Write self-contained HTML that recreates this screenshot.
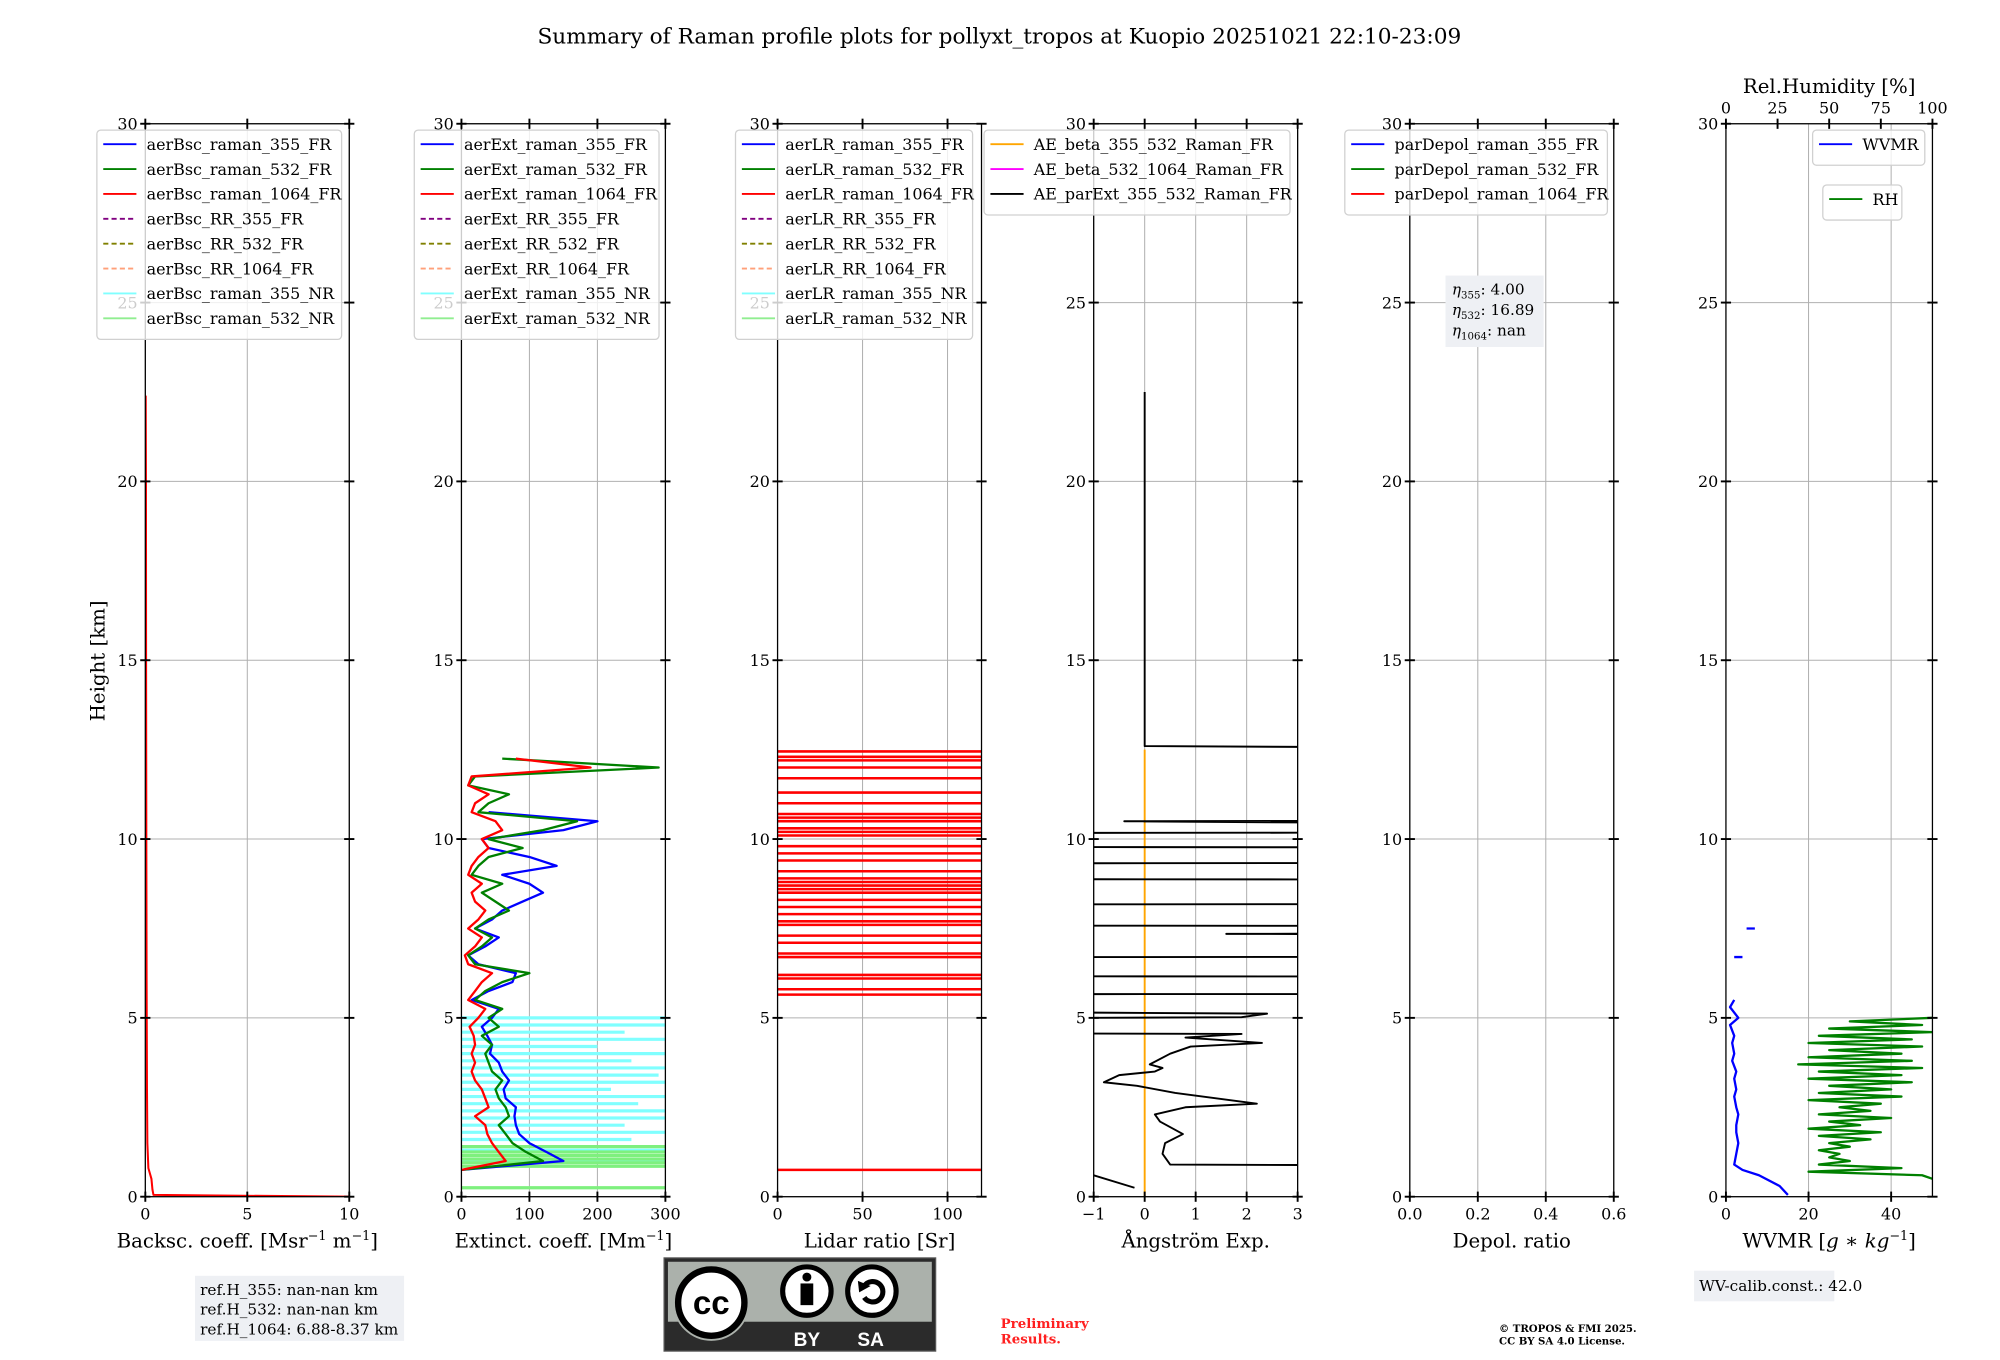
<!DOCTYPE html>
<html><head><meta charset="utf-8">
<style>
html,body{margin:0;padding:0;background:#fff;}
svg{display:block;font-family:"DejaVu Serif","Liberation Serif",serif;}
</style></head>
<body>
<svg id="fig" width="2000" height="1360" viewBox="0 0 1569 1066" preserveAspectRatio="none" xmlns="http://www.w3.org/2000/svg">
<rect x="0" y="0" width="1569" height="1066" fill="#fff"/>
<text x="784" y="34" font-size="17" text-anchor="middle">Summary of Raman profile plots for pollyxt_tropos at Kuopio 20251021 22:10-23:09</text>
<g id="plots"></g>
</svg>
<script>
// ---------- data ----------
const yTicks = [0,5,10,15,20,25,30];
const bscTicks = [0,5,10];
const extTicks = [0,100,200,300];
const lrTicks = [0,50,100];
const aeTicks = [-1,0,1,2,3];
const depTicks = [0.0,0.2,0.4,0.6];
const wvTicks = [0,20,40];
const rhTicks = [0,25,50,75,100];

const bscH = [0,0.05,0.2,0.5,0.8,1.5,3,6,10,15,20,22.4];
const bsc1064 = [10,0.4,0.35,0.3,0.15,0.1,0.08,0.06,0.05,0.04,0.03,0.02];

const extH = [0.75,1.0,1.25,1.5,1.75,2.0,2.25,2.5,2.75,3.0,3.25,3.5,3.75,4.0,4.25,4.5,4.75,5.0,5.25,5.5,5.75,6.0,6.25,6.5,6.75,7.0,7.25,7.5,7.75,8.0,8.25,8.5,8.75,9.0,9.25,9.5,9.75,10.0,10.25,10.5,10.75,11.0,11.25,11.5,11.75,12.0,12.25];
const ext355 = [0,150,125,100,85,80,78,80,65,62,70,60,55,42,45,38,30,45,55,15,40,75,80,25,10,35,55,20,45,60,90,120,100,60,140,100,40,30,150,200,40,null,null,null,null,null,null];
const ext532 = [0,120,95,75,65,55,70,65,55,50,60,45,40,35,45,30,55,40,60,20,35,60,100,20,10,30,45,20,40,70,50,30,60,15,25,40,90,40,120,170,25,40,70,10,20,290,60];
const ext1064 = [0,65,55,45,38,35,20,40,35,30,20,15,20,15,20,18,12,25,35,10,20,30,45,10,5,20,30,10,25,35,20,15,30,10,15,25,40,30,60,50,15,20,40,10,15,190,80];
const nr355H = [1.0,1.3,1.6,1.8,2.0,2.2,2.4,2.6,2.8,3.0,3.2,3.4,3.6,3.8,4.0,4.2,4.4,4.6,4.8,5.0];
const nr355V = [300,300,250,300,240,300,300,260,300,220,300,290,300,250,300,200,300,240,300,300];
const nr532H = [0.25,0.85,0.95,1.05,1.15,1.25,1.4];
const nr532V = [300,300,300,300,300,300,300];

const lrH = [0.75,5.65,5.8,6.1,6.2,6.7,6.8,7.1,7.3,7.6,7.7,7.9,8.1,8.3,8.5,8.6,8.7,8.8,8.9,9.1,9.4,9.6,9.8,10.1,10.2,10.3,10.5,10.6,10.7,11.0,11.3,11.7,12.0,12.2,12.3,12.45];
const lrV = [200,200,200,200,200,200,200,200,200,200,200,200,200,200,200,200,200,200,200,200,200,200,200,200,200,200,200,200,200,200,200,200,200,200,200,200];

const aeH = [0.8,0.9,1.2,1.5,1.75,2.1,2.3,2.5,2.6,2.9,3.1,3.2,3.4,3.5,3.6,3.7,4.0,4.2,4.3,4.45,4.55,4.62,4.88,5.02,5.12,5.3,5.65,5.68,6.15,6.17,6.68,6.72,7.3,7.35,7.4,7.55,7.6,8.15,8.2,8.85,8.9,9.3,9.35,9.75,9.8,10.15,10.2,10.3,10.5,10.55,12.45,12.6,22.5];
const aeV = [20,0.5,0.35,0.4,0.75,0.3,0.2,0.8,2.2,0.6,-0.15,-0.8,-0.5,0.2,0.35,0.1,0.5,0.9,2.3,0.8,1.9,-20,-20,1.9,2.4,-20,-20,20,20,-20,-20,20,20,1.6,20,20,-20,-20,20,20,-20,-20,20,20,-20,-20,20,20,-0.4,20,20,0,0];
const aeLowH = [0.25,0.6];
const aeLowV = [-0.2,-1];

const wvH = [0.05,0.3,0.6,0.75,0.9,1.2,1.5,1.8,2.0,2.3,2.5,2.8,3.0,3.3,3.5,3.8,4.0,4.3,4.5,4.8,5.0,5.3,5.5];
const wvV = [15,13,8,4,2,2.5,3,2.5,2.5,3,2.5,2,2.5,2,2.5,1.5,2,1.5,2,1,3,1,2];
const rhH = [0.5,0.6,0.7,0.8,0.9,1.0,1.1,1.2,1.3,1.4,1.5,1.6,1.7,1.8,1.9,2.0,2.1,2.2,2.3,2.4,2.5,2.6,2.7,2.8,2.9,3.0,3.1,3.2,3.3,3.4,3.5,3.6,3.7,3.8,3.9,4.0,4.1,4.2,4.3,4.4,4.5,4.6,4.7,4.8,4.9,5.0];
const rhV = [100,95,40,85,45,60,50,55,45,60,50,70,45,75,40,65,50,80,45,70,55,75,40,85,45,80,50,90,40,85,45,95,35,90,40,85,50,95,40,90,45,100,50,95,60,100];

// ---------- helpers ----------
const NS = "http://www.w3.org/2000/svg";
const root = document.getElementById('plots');
const TOP = 97, BOT = 938;
function yS(h){ return BOT - (h/30)*(BOT-TOP); }
function mk(tag, attrs, parent){
  const e = document.createElementNS(NS, tag);
  for (const k in attrs) e.setAttribute(k, attrs[k]);
  (parent||root).appendChild(e);
  return e;
}
function makeX(x0,x1,v0,v1){ return v => x0 + (v-v0)/(v1-v0)*(x1-x0); }

function axesFrame(id, x0, x1, xs, ticks){
  const g = mk('g', {});
  
  
  ticks.forEach(t => {
    const gl = mk('line', {x1:xs(t), x2:xs(t), y1:TOP, y2:BOT, stroke:'#b0b0b0', 'stroke-width':0.8}, g);
    
    
  });
  yTicks.forEach(t => {
    const gl = mk('line', {x1:x0, x2:x1, y1:yS(t), y2:yS(t), stroke:'#b0b0b0', 'stroke-width':0.8}, g);
    
    
  });
  return g;
}
function axesTicks(id, x0, x1, xs, ticks, fmt, xlabel, topAxis){
  const g = mk('g', {});
  
  
  mk('rect', {x:x0, y:TOP, width:x1-x0, height:BOT-TOP, fill:'none', stroke:'#000', 'stroke-width':1}, g);
  ticks.forEach(t => {
    const X = xs(t);
    mk('line', {x1:X, x2:X, y1:BOT-4, y2:BOT+4, stroke:'#000', 'stroke-width':1.5}, g);
    if (!topAxis) mk('line', {x1:X, x2:X, y1:TOP-4, y2:TOP+4, stroke:'#000', 'stroke-width':1.5}, g);
    const tl = mk('text', {x:X, y:BOT+18, 'font-size':12.5, 'text-anchor':'middle'}, g);
    
    
    tl.textContent = fmt(t);
  });
  yTicks.forEach(t => {
    const Y = yS(t);
    mk('line', {x1:x0-4, x2:x0+4, y1:Y, y2:Y, stroke:'#000', 'stroke-width':1.5}, g);
    mk('line', {x1:x1-4, x2:x1+4, y1:Y, y2:Y, stroke:'#000', 'stroke-width':1.5}, g);
    const tl = mk('text', {x:x0-6, y:Y+4.5, 'font-size':12.5, 'text-anchor':'end'}, g);
    
    
    tl.textContent = String(t);
  });
  const xl = mk('text', {x:(x0+x1)/2, y:BOT+40, 'font-size':15.5, 'text-anchor':'middle'}, g);
  
  
  xl.innerHTML = xlabel;
}
function clip(id, x0, x1){
  const cp = mk('clipPath', {id:'c'+id});
  mk('rect', {x:x0, y:TOP, width:x1-x0, height:BOT-TOP}, cp);
  const g = mk('g', {'clip-path':'url(#c'+id+')'});
  
  
  return g;
}
function profile(g, xs, H, V, color, w, name){
  let segs = [], cur = [];
  for (let i=0;i<H.length;i++){
    if (V[i]===null){ if(cur.length) segs.push(cur); cur=[]; continue; }
    cur.push(xs(V[i]).toFixed(1)+','+yS(H[i]).toFixed(1));
  }
  if (cur.length) segs.push(cur);
  segs.forEach(s => {
    const p = mk('polyline', {points:s.join(' '), fill:'none', stroke:color, 'stroke-width':w, 'stroke-linejoin':'round'}, g);
    
    
  });
}
function hbars(g, xs, H, V, color, w, name){
  for (let i=0;i<H.length;i++){
    const l = mk('line', {x1:xs(0), x2:xs(V[i]), y1:yS(H[i]), y2:yS(H[i]), stroke:color, 'stroke-width':w}, g);
    
    
  }
}
function legend(id, x, y, w, entries, rowH){
  const g = mk('g', {});
  
  
  mk('rect', {x:x, y:y, width:w, height:entries.length*rowH+8, rx:3, fill:'#fff', 'fill-opacity':0.8, stroke:'#d0d0d0', 'stroke-width':1}, g);
  entries.forEach((e,i) => {
    const cy = y + 11 + i*rowH;
    mk('line', {x1:x+5, x2:x+31, y1:cy, y2:cy, stroke:e[1], 'stroke-width':1.5, 'stroke-dasharray':e[2]?'4,2.5':'none'}, g);
    const t = mk('text', {x:x+39, y:cy+4.5, 'font-size':12.5}, g);
    
    
    t.textContent = e[0];
  });
}

// ---------- Panel 1: backscatter ----------
const x1s = makeX(114,274,0,10);
axesFrame('backscatter',114,274,x1s,bscTicks);
const g1 = clip('backscatter',114,274);
mk('line',{x1:x1s(0),x2:x1s(0),y1:yS(0),y2:yS(25),stroke:'#bbb','stroke-width':1},g1);
profile(g1,x1s,bscH,bsc1064,'#ff0000',1.6,'bsc-1064-profile');
axesTicks('backscatter',114,274,x1s,bscTicks,v=>String(v),'Backsc. coeff. [Msr<tspan dy="-6" font-size="10">−1</tspan><tspan dy="6"> m</tspan><tspan dy="-6" font-size="10">−1</tspan><tspan dy="6">]</tspan>');
const bscEntries = [['aerBsc_raman_355_FR','#0000ff'],['aerBsc_raman_532_FR','#008000'],['aerBsc_raman_1064_FR','#ff0000'],['aerBsc_RR_355_FR','#800080',1],['aerBsc_RR_532_FR','#808000',1],['aerBsc_RR_1064_FR','#ffa07a',1],['aerBsc_raman_355_NR','#80ffff'],['aerBsc_raman_532_NR','#90ee90']];
legend('backscatter-legend',76,102,192,bscEntries,19.5);

// ---------- Panel 2: extinction ----------
const x2s = makeX(362,522,0,300);
axesFrame('extinction',362,522,x2s,extTicks);
const g2 = clip('extinction',362,522);
hbars(g2,x2s,nr355H,nr355V,'#80ffff',2.5,'ext-355-nr-line');
hbars(g2,x2s,nr532H,nr532V,'#7ef07e',2.5,'ext-532-nr-line');
profile(g2,x2s,extH,ext355,'#0000ff',1.8,'ext-355-profile');
profile(g2,x2s,extH,ext532,'#008000',1.8,'ext-532-profile');
profile(g2,x2s,extH,ext1064,'#ff0000',1.8,'ext-1064-profile');
axesTicks('extinction',362,522,x2s,extTicks,v=>String(v),'Extinct. coeff. [Mm<tspan dy="-6" font-size="10">−1</tspan><tspan dy="6">]</tspan>');
legend('extinction-legend',325,102,192,bscEntries.map(e=>[e[0].replace('aerBsc','aerExt'),e[1],e[2]]),19.5);

// ---------- Panel 3: lidar ratio ----------
const x3s = makeX(610,770,0,120);
axesFrame('lidar-ratio',610,770,x3s,lrTicks);
const g3 = clip('lidar-ratio',610,770);
hbars(g3,x3s,lrH,lrV,'#ff0000',2,'lidar-ratio-1064-line');
axesTicks('lidar-ratio',610,770,x3s,lrTicks,v=>String(v),'Lidar ratio [Sr]');
legend('lidar-ratio-legend',577,102,186,bscEntries.map(e=>[e[0].replace('aerBsc','aerLR'),e[1],e[2]]),19.5);

// ---------- Panel 4: Angstrom ----------
const x4s = makeX(858,1018,-1,3);
axesFrame('angstrom',858,1018,x4s,aeTicks);
const g4 = clip('angstrom',858,1018);
const ov = mk('line',{x1:x4s(0),x2:x4s(0),y1:yS(0),y2:yS(12.5),stroke:'#ffa500','stroke-width':1.5},g4);


profile(g4,x4s,aeH,aeV,'#000',1.5,'ae-parext-profile');
profile(g4,x4s,aeLowH,aeLowV,'#000',1.5,'ae-parext-profile-low');
axesTicks('angstrom',858,1018,x4s,aeTicks,v=>v<0?'−'+Math.abs(v):String(v),'Ångström Exp.');
legend('angstrom-legend',772,102,240,[['AE_beta_355_532_Raman_FR','#ffa500'],['AE_beta_532_1064_Raman_FR','#ff00ff'],['AE_parExt_355_532_Raman_FR','#000000']],19.5);

// ---------- Panel 5: depol ----------
const x5s = makeX(1106,1266,0,0.6);
axesFrame('depol',1106,1266,x5s,depTicks);
axesTicks('depol',1106,1266,x5s,depTicks,v=>v.toFixed(1),'Depol. ratio');
legend('depol-legend',1055,102,206,[['parDepol_raman_355_FR','#0000ff'],['parDepol_raman_532_FR','#008000'],['parDepol_raman_1064_FR','#ff0000']],19.5);
(function(){
  const g = mk('g',{});
  
  
  mk('rect',{x:1134,y:216,width:77,height:56,fill:'#eef0f4'},g);
  [['η','355',': 4.00'],['η','532',': 16.89'],['η','1064',': nan']].forEach((r,i)=>{
    const t = mk('text',{x:1139,y:231+i*16,'font-size':12},g);
    t.innerHTML = '<tspan font-style="italic">'+r[0]+'</tspan><tspan font-size="8" dy="3">'+r[1]+'</tspan><tspan dy="-3">'+r[2]+'</tspan>';
  });
})();

// ---------- Panel 6: WVMR / RH ----------
const x6s = makeX(1354,1516,0,50);
const rhs = makeX(1354,1516,0,100);
axesFrame('wvmr',1354,1516,x6s,wvTicks);
const g6 = clip('wvmr',1354,1516);
profile(g6,rhs,rhH,rhV,'#008000',1.8,'rh-profile');
profile(g6,x6s,wvH,wvV,'#0000ff',1.8,'wvmr-profile');
[[3,6.7],[6,7.5]].forEach(p=>{
  const l = mk('line',{x1:x6s(p[0]-1),x2:x6s(p[0]+1),y1:yS(p[1]),y2:yS(p[1]),stroke:'#0000ff','stroke-width':1.8},g6);
  
  
});
axesTicks('wvmr',1354,1516,x6s,wvTicks,v=>String(v),'WVMR [<tspan font-style="italic">g</tspan> ∗ <tspan font-style="italic">kg</tspan><tspan dy="-6" font-size="10">−1</tspan><tspan dy="6">]</tspan>',true);
(function(){
  const g = mk('g',{});
  
  
  rhTicks.forEach(t=>{
    mk('line',{x1:rhs(t),x2:rhs(t),y1:TOP-4,y2:TOP+4,stroke:'#000','stroke-width':1.5},g);
    const tl = mk('text',{x:rhs(t),y:TOP-8,'font-size':12.5,'text-anchor':'middle'},g);
    
    
    tl.textContent = String(t);
  });
  const tt = mk('text',{x:1435,y:73,'font-size':15.5,'text-anchor':'middle'},g);
  
  
  tt.textContent = 'Rel.Humidity [%]';
})();
legend('wvmr-legend',1422,102,88,[['WVMR','#0000ff']],19.5);
legend('rh-legend',1430,145,62,[['RH','#008000']],19.5);

const yt = mk('text',{x:0,y:0,'font-size':15.5,'text-anchor':'middle',transform:'translate(82,518) rotate(-90)'});


yt.textContent = 'Height [km]';

// ---------- footer ----------
(function(){
  const g = mk('g',{});
  
  
  mk('rect',{x:153,y:1000,width:164,height:51,fill:'#eef0f4'},g);
  ['ref.H_355: nan-nan km','ref.H_532: nan-nan km','ref.H_1064: 6.88-8.37 km'].forEach((s,i)=>{
    const t = mk('text',{x:157,y:1015+i*15.5,'font-size':12},g);
    t.textContent = s;
  });
  const w = mk('g',{});
  
  
  mk('rect',{x:1329,y:996,width:110,height:24,fill:'#eef0f4'},w);
  const wt = mk('text',{x:1333,y:1012,'font-size':12},w);
  wt.textContent = 'WV-calib.const.: 42.0';
  const pr = mk('text',{x:785,y:1041,'font-size':10.5,fill:'#ff2020','font-weight':'bold'});
  
  
  pr.innerHTML = '<tspan x="785">Preliminary</tspan><tspan x="785" dy="12">Results.</tspan>';
  const cp = mk('text',{x:1176,y:1044,'font-size':8,'font-weight':'bold'});
  
  
  cp.innerHTML = '<tspan x="1176">© TROPOS &amp; FMI 2025.</tspan><tspan x="1176" dy="10">CC BY SA 4.0 License.</tspan>';
  const b = mk('g',{});
  
  
  mk('rect',{x:521,y:986,width:213,height:73,fill:'#2b2b2b',stroke:'#555','stroke-width':1},b);
  mk('rect',{x:524,y:989,width:207,height:47,fill:'#abb1ab'},b);
  mk('circle',{cx:558,cy:1021,r:30,fill:'#abb1ab'},b);
  mk('circle',{cx:558,cy:1021,r:26,fill:'#fff',stroke:'#000','stroke-width':5},b);
  const cc = mk('text',{x:558,y:1030,'font-size':26,'font-weight':'bold','text-anchor':'middle','font-family':'"Liberation Sans",sans-serif'},b);
  cc.textContent = 'cc';
  mk('circle',{cx:633,cy:1012,r:19,fill:'#fff',stroke:'#000','stroke-width':4},b);
  mk('circle',{cx:633,cy:1001,r:3.5,fill:'#000'},b);
  mk('rect',{x:628,y:1006,width:10,height:17,fill:'#000'},b);
  mk('circle',{cx:684,cy:1012,r:19,fill:'#fff',stroke:'#000','stroke-width':4},b);
  mk('path',{d:'M678,1008 A8,8 0 1 1 678,1017',fill:'none',stroke:'#000','stroke-width':4},b);
  mk('path',{d:'M673,1004 L683,1008 L674,1013 Z',fill:'#000'},b);
  const by = mk('text',{x:633,y:1055,'font-size':15,'font-weight':'bold',fill:'#fff','text-anchor':'middle','font-family':'"Liberation Sans",sans-serif'},b);
  by.textContent = 'BY';
  const sa = mk('text',{x:683,y:1055,'font-size':15,'font-weight':'bold',fill:'#fff','text-anchor':'middle','font-family':'"Liberation Sans",sans-serif'},b);
  sa.textContent = 'SA';
})();
</script>
</body></html>
